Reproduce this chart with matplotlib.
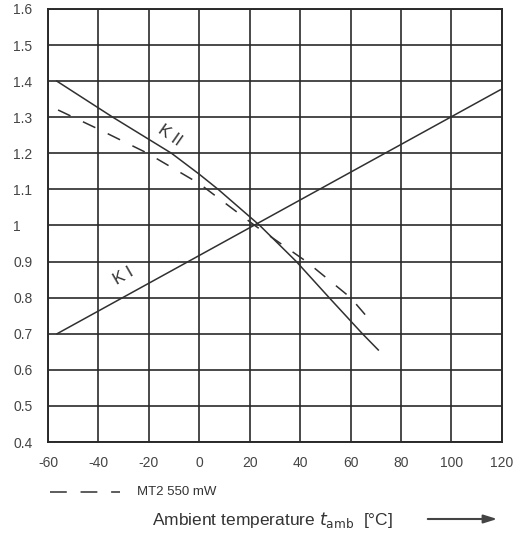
import numpy as np
import matplotlib.pyplot as plt
from matplotlib.patches import FancyArrowPatch

plt.rcParams['font.family'] = ['Liberation Sans', 'DejaVu Sans']

# curve K I (straight line)
k1_t = [-56.4, 119.4]
k1_val = [0.70, 1.376]

# curve K II
k2_t = [-56.5, -34.3, -11, 0, 7.5, 24, 38.5, 51.5, 64.7, 71]
k2_val = [1.40, 1.30, 1.20, 1.142, 1.10, 1.00, 0.90, 0.80, 0.70, 0.655]

# dashed curve MT2 550 mW
mt2_t = [-56, -40, -20.5, 0, 22, 42.5, 60, 67]
mt2_val = [1.32, 1.267, 1.20, 1.116, 1.00, 0.90, 0.80, 0.743]

x_ticks = [-60, -40, -20, 0, 20, 40, 60, 80, 100, 120]
x_labels = ['-60', '-40', '-20', '0', '20', '40', '60', '80', '100', '120']
y_ticks = [0.4, 0.5, 0.6, 0.7, 0.8, 0.9, 1.0, 1.1, 1.2, 1.3, 1.4, 1.5, 1.6]
y_labels = ['0.4', '0.5', '0.6', '0.7', '0.8', '0.9', '1', '1.1', '1.2', '1.3', '1.4', '1.5', '1.6']

fig = plt.figure(figsize=(5.29, 5.38), dpi=100)
ax = fig.add_axes([0.0907, 0.1784, 0.858, 0.805])

line_col = '#303030'
ax.plot(k1_t, k1_val, color=line_col, lw=1.1)
ax.plot(k2_t, k2_val, color=line_col, lw=1.1)
ax.plot(mt2_t, mt2_val, color=line_col, lw=1.1, dashes=(9, 9))

ax.set_xlim(-60, 120)
ax.set_ylim(0.4, 1.6)
ax.set_xticks(x_ticks)
ax.set_xticklabels(x_labels)
ax.set_yticks(y_ticks)
ax.set_yticklabels(y_labels, ha='left')
ax.grid(True, color='#2a2a2a', lw=1.2)
for s in ax.spines.values():
    s.set_color('#2a2a2a')
    s.set_linewidth(1.4)
ax.tick_params(length=0, labelsize=10, labelcolor='#444444')
ax.tick_params(axis='y', pad=25)
ax.tick_params(axis='x', pad=10)

ax.text(-11.5, 1.25, 'K II', rotation=-35, fontsize=12, color='#333333',
        ha='center', va='center')
ax.text(-30, 0.86, 'K I', rotation=30, fontsize=12, color='#333333',
        ha='center', va='center')

# legend below the axes
fig.add_artist(plt.Line2D([50 / 529, 120 / 529], [1 - 492 / 538] * 2,
                          color=line_col, lw=1.1, dashes=(11, 9)))
fig.text(137 / 529, 1 - 492 / 538, 'MT2 550 mW', fontsize=9.5,
         color='#333333', va='center')

fig.text(152 / 529, 1 - 520 / 538,
         r'Ambient temperature $t_{\mathrm{amb}}$  [°C]',
         fontsize=12.5, color='#333333', va='center')
fig.add_artist(FancyArrowPatch(
    (425 / 529, 1 - 519 / 538), (500 / 529, 1 - 519 / 538),
    transform=fig.transFigure, arrowstyle='-|>,head_length=8,head_width=2.5',
    color='#444444', lw=1.5))

fig.savefig('out.png', dpi=100)
